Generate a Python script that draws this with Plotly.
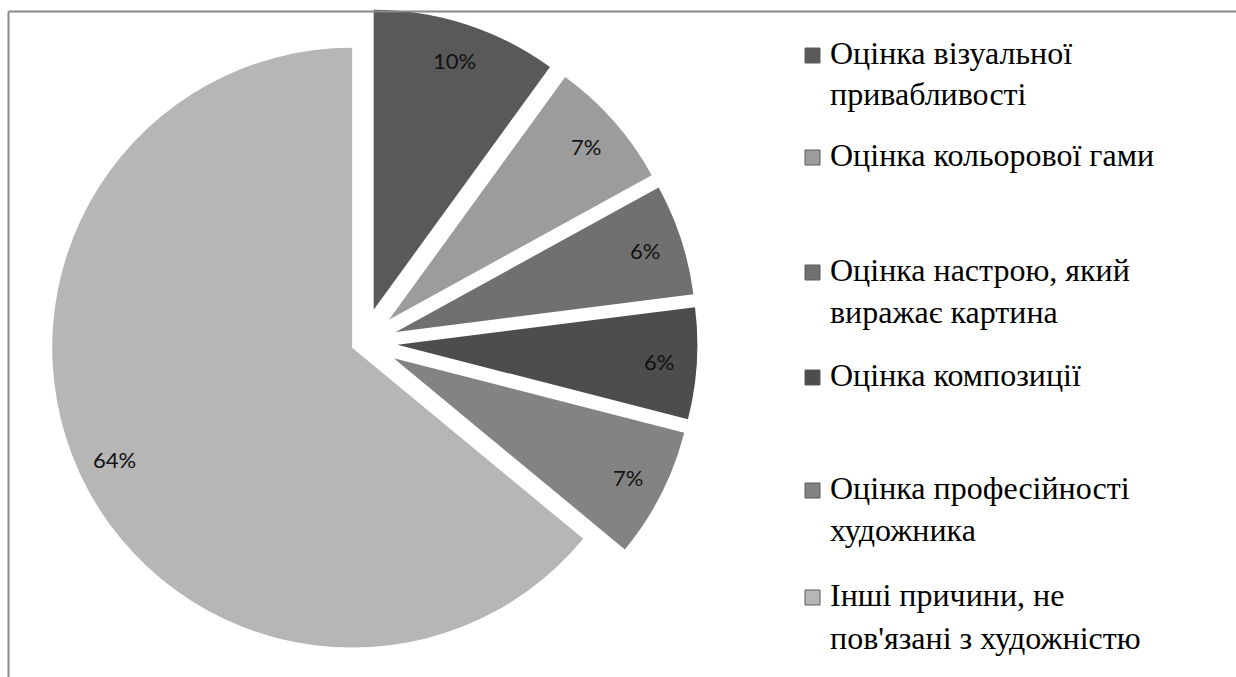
import math
import plotly.graph_objects as go

# Reasons for evaluating a painting (share of answers, %)
categories = [
    "Оцінка візуальної привабливості",
    "Оцінка кольорової гами",
    "Оцінка настрою, який виражає картина",
    "Оцінка композиції",
    "Оцінка професійності художника",
    "Інші причини, не пов'язані з художністю",
]
values = [10, 7, 6, 6, 7, 64]

# Legend text, wrapped as it is laid out on the right
legend_lines = [
    ["Оцінка візуальної", "привабливості"],
    ["Оцінка кольорової гами"],
    ["Оцінка настрою, який", "виражає картина"],
    ["Оцінка композиції"],
    ["Оцінка професійності", "художника"],
    ["Інші причини, не", "пов'язані з художністю"],
]

colors = ["#595959", "#9c9c9c", "#707070", "#4d4d4d", "#838383", "#b6b6b6"]
pulls = [0.115, 0.115, 0.115, 0.115, 0.115, 0.04]

W, H = 1236, 677
dom_x = [0.0197, 0.5677]
dom_y = [0.0, 0.988]

fig = go.Figure(
    go.Pie(
        labels=categories,
        values=values,
        sort=False,
        direction="clockwise",
        rotation=0,
        pull=pulls,
        marker=dict(colors=colors, line=dict(width=0)),
        textinfo="none",
        hoverinfo="label+percent",
        showlegend=False,
        domain=dict(x=dom_x, y=dom_y),
    )
)

# Pie geometry in pixels (same rule plotly uses to size a pulled pie)
box_w = W * (dom_x[1] - dom_x[0])
box_h = H * (dom_y[1] - dom_y[0])
r = min(box_w, box_h) / (2 + 2 * max(pulls))
cx = W * (dom_x[0] + dom_x[1]) / 2
cy = H * (2 - dom_y[0] - dom_y[1]) / 2

annotations = []
total = sum(values)
cum = 0
for v, p in zip(values, pulls):
    mid = 2 * math.pi * (cum + v / 2) / total
    cum += v
    sx, sy = math.sin(mid), -math.cos(mid)
    vx, vy = cx + p * r * sx, cy + p * r * sy
    lx, ly = vx + 0.875 * r * sx, vy + 0.875 * r * sy
    annotations.append(
        dict(
            x=lx / W, y=1 - ly / H, xref="paper", yref="paper",
            text=f"{round(100 * v / total)}%", showarrow=False,
            font=dict(family="Lato", size=22, color="#111111"),
            xanchor="center", yanchor="middle",
        )
    )

# Right-hand legend: baselines of each text line
line_baselines = [[63, 104], [165], [280, 322], [385], [498, 540], [605, 648]]
marker_x0, marker_size, text_x = 805, 15, 828
shapes = []
for lines, bases, col in zip(legend_lines, line_baselines, colors):
    b0 = bases[0]
    shapes.append(
        dict(
            type="rect", xref="paper", yref="paper",
            x0=marker_x0 / W, x1=(marker_x0 + marker_size) / W,
            y0=1 - b0 / H, y1=1 - (b0 - marker_size) / H,
            fillcolor=col, line=dict(color="#5a5a5a", width=1),
        )
    )
    for txt, b in zip(lines, bases):
        annotations.append(
            dict(
                x=text_x / W, y=1 - (b - 10) / H, xref="paper", yref="paper",
                text=txt, showarrow=False, xanchor="left", yanchor="middle",
                font=dict(family="Liberation Serif", size=32, color="#000000"),
            )
        )

# Chart frame (top and left edges)
shapes.append(dict(type="line", xref="paper", yref="paper",
                   x0=8.5 / W, x1=1, y0=1 - 11.5 / H, y1=1 - 11.5 / H,
                   line=dict(color="#8a8a8a", width=2)))
shapes.append(dict(type="line", xref="paper", yref="paper",
                   x0=8.5 / W, x1=8.5 / W, y0=0, y1=1 - 11.5 / H,
                   line=dict(color="#8a8a8a", width=2)))

fig.update_layout(
    width=W, height=H,
    margin=dict(l=0, r=0, t=0, b=0),
    paper_bgcolor="white", plot_bgcolor="white",
    annotations=annotations, shapes=shapes,
)

fig.write_html("out.html")
